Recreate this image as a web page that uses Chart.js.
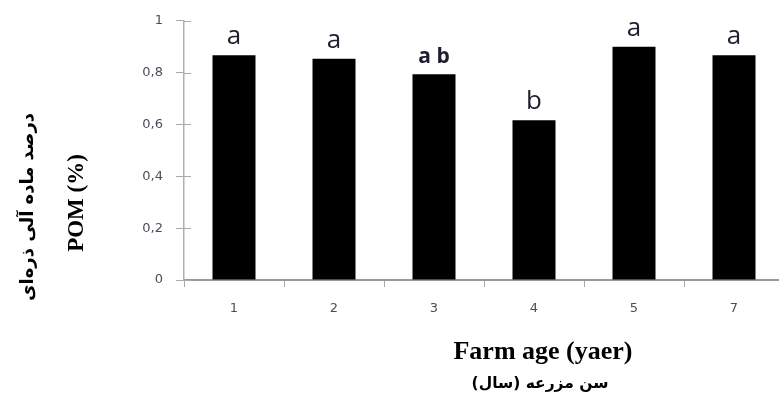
<!DOCTYPE html>
<html>
<head>
<meta charset="utf-8">
<script src="https://cdn.jsdelivr.net/npm/chart.js@4/dist/chart.umd.min.js"></script>
<style>
  html, body { margin: 0; padding: 0; background: #fff; overflow: hidden; }
  #wrap { width: 779px; height: 399px; overflow: hidden; }
  canvas { display: block; }
</style>
</head>
<body>
<div id="wrap"><canvas id="pom" width="790" height="399"></canvas></div>
<script>
// Farm age categories (years) and particulate organic matter share (%)
const farmAges = ['1', '2', '3', '4', '5', '7'];
const pomPercent = [0.867, 0.854, 0.794, 0.616, 0.900, 0.867];
// Mean-separation letters shown above each bar
const groupLetters = ['a', 'a', 'a b', 'b', 'a', 'a'];
// Y axis tick labels (comma decimal separator)
const yTickLabels = ['0', '0,2', '0,4', '0,6', '0,8', '1'];

const yTitleFa = 'درصد ماده آلی ذره\u200cای';
const yTitleEn = 'POM (%)';
const xTitleEn = 'Farm age (yaer)';
const xTitleFa = 'سن مزرعه (سال)';

// Letters over the bars
const letterPlugin = {
  id: 'groupLetters',
  afterDatasetsDraw(chart) {
    const ctx = chart.ctx;
    const meta = chart.getDatasetMeta(0);
    ctx.save();
    ctx.textAlign = 'center';
    ctx.textBaseline = 'alphabetic';
    ctx.fillStyle = '#1e1e2e';
    meta.data.forEach((bar, i) => {
      const txt = groupLetters[i];
      const twoGroups = txt.indexOf(' ') >= 0;
      ctx.font = twoGroups ? 'bold 21px "Open Sans"' : '26px "Open Sans"';
      ctx.fillText(txt, bar.x, bar.y - 11);
    });
    ctx.restore();
  }
};

// Inner half of the y-axis tick marks (the marks cross the axis line)
const crossTicks = {
  id: 'crossTicks',
  afterDraw(chart) {
    const ctx = chart.ctx;
    const y = chart.scales.y;
    ctx.save();
    ctx.strokeStyle = '#aaaaaa';
    ctx.lineWidth = 1;
    y.ticks.forEach(t => {
      const py = Math.round(y.getPixelForValue(t.value)) + 0.5;
      ctx.beginPath();
      ctx.moveTo(y.right, py);
      ctx.lineTo(y.right + 7, py);
      ctx.stroke();
    });
    ctx.restore();
  }
};

// Axis titles: English and Persian lines with different typefaces
const titlePlugin = {
  id: 'axisTitles',
  afterDraw(chart) {
    const ctx = chart.ctx;
    ctx.save();
    ctx.fillStyle = '#000';
    ctx.textAlign = 'center';
    ctx.textBaseline = 'middle';

    // vertical titles
    ctx.save();
    ctx.translate(28, 207);
    ctx.rotate(-Math.PI / 2);
    ctx.direction = 'rtl';
    ctx.font = 'bold 18px "DejaVu Sans"';
    ctx.fillText(yTitleFa, 0, 0);
    ctx.restore();

    ctx.save();
    ctx.translate(77, 203);
    ctx.rotate(-Math.PI / 2);
    ctx.font = 'bold 23px "Liberation Serif"';
    ctx.fillText(yTitleEn, 0, 0);
    ctx.restore();

    // horizontal titles
    ctx.font = 'bold 26px "Liberation Serif"';
    ctx.fillText(xTitleEn, 543, 352);

    ctx.direction = 'rtl';
    ctx.font = 'bold 15.5px "DejaVu Sans"';
    ctx.fillText(xTitleFa, 540, 384);
    ctx.restore();
  }
};

new Chart(document.getElementById('pom'), {
  type: 'bar',
  data: {
    labels: farmAges,
    datasets: [{
      data: pomPercent,
      backgroundColor: '#000000',
      borderWidth: 0,
      barPercentage: 0.86,
      categoryPercentage: 0.5
    }]
  },
  options: {
    responsive: false,
    animation: false,
    devicePixelRatio: 1,
    layout: { padding: { top: 17, right: 6, left: 0, bottom: 0 } },
    plugins: {
      legend: { display: false },
      tooltip: { enabled: false }
    },
    scales: {
      x: {
        afterFit(scale) { scale.height = 119; },
        grid: {
          drawOnChartArea: false,
          offset: true,
          tickLength: 7,
          color: '#aaaaaa',
          lineWidth: 1
        },
        border: { color: '#999999', width: 2 },
        ticks: {
          padding: 14,
          color: '#4d4d5a',
          font: { family: 'DejaVu Sans', size: 13 }
        }
      },
      y: {
        min: 0,
        max: 1,
        afterFit(scale) { scale.width = 184; },
        grid: {
          drawOnChartArea: false,
          tickLength: 8,
          color: '#aaaaaa',
          lineWidth: 1
        },
        border: { color: '#b0b0b0', width: 1.5 },
        ticks: {
          stepSize: 0.2,
          padding: 13,
          color: '#4d4d5a',
          font: { family: 'DejaVu Sans', size: 13 },
          callback: (v, i) => yTickLabels[i]
        }
      }
    }
  },
  plugins: [letterPlugin, crossTicks, titlePlugin]
});
</script>
</body>
</html>
